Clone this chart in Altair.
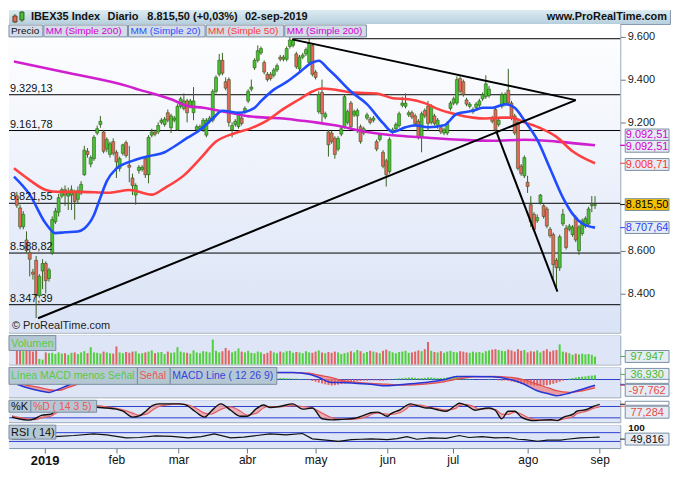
import altair as alt
import pandas as pd

FONT = "Liberation Sans"

# ---------------- data ----------------
candle_open = [
    8857, 8800, 8712, 8650, 8590, 8500, 8555, 8390, 8505, 8540,
    8470, 8590, 8735, 8780, 8855, 8885, 8855, 8860, 8875, 8840,
    8870, 8955, 9065, 9005, 9030, 9150, 9190, 9155, 9075, 9050,
    9110, 9060, 8985, 9055, 9105, 9000, 8940, 8860, 8975, 8980,
    9030, 8955, 9140, 9155, 9155, 9200, 9190, 9245, 9175, 9210,
    9165, 9275, 9265, 9300, 9275, 9245, 9165, 9170, 9165, 9140,
    9205, 9210, 9345, 9425, 9490, 9390, 9400, 9165, 9190, 9180,
    9220, 9250, 9300, 9355, 9455, 9490, 9525, 9480, 9425, 9425,
    9420, 9445, 9505, 9495, 9495, 9555, 9560, 9520, 9450, 9505,
    9520, 9480, 9560, 9435, 9250, 9340, 9225, 9155, 9150, 9125,
    9075, 9145, 9180, 9200, 9290, 9235, 9230, 9180, 9150, 9220,
    9215, 9210, 9110, 9120, 9060, 9020, 8970, 9155, 9170, 9185,
    9280, 9275, 9235, 9245, 9230, 9205, 9130, 9255, 9275, 9200,
    9230, 9180, 9175, 9150, 9150, 9265, 9290, 9290, 9405, 9390,
    9305, 9275, 9250, 9270, 9280, 9310, 9320, 9325, 9220, 9260,
    9190, 9275, 9285, 9350, 9290, 9230, 9200, 8995, 8950, 8920,
    8815, 8770, 8740, 8825, 8810, 8795, 8700, 8675, 8555, 8520,
    8725, 8705, 8700, 8675, 8755, 8600, 8680, 8715, 8725, 8810,
    8812,
]
candle_high = [
    8875, 8815, 8785, 8690, 8605, 8515, 8575, 8490, 8560, 8550,
    8520, 8760, 8800, 8865, 8895, 8905, 8895, 8905, 8885, 8900,
    8925, 9090, 9080, 9045, 9140, 9185, 9230, 9165, 9130, 9110,
    9125, 9070, 9040, 9100, 9115, 9090, 8960, 8915, 9000, 9000,
    9040, 9140, 9170, 9165, 9200, 9220, 9225, 9260, 9240, 9230,
    9285, 9320, 9335, 9310, 9310, 9365, 9190, 9190, 9220, 9220,
    9230, 9355, 9420, 9520, 9525, 9410, 9410, 9200, 9215, 9250,
    9235, 9275, 9355, 9400, 9500, 9560, 9555, 9490, 9435, 9435,
    9455, 9475, 9515, 9515, 9555, 9600, 9595, 9530, 9515, 9525,
    9550, 9590, 9570, 9445, 9345, 9400, 9250, 9165, 9160, 9135,
    9135, 9180, 9330, 9260, 9300, 9260, 9265, 9190, 9180, 9245,
    9225, 9230, 9120, 9150, 9070, 9030, 9130, 9175, 9200, 9250,
    9320, 9335, 9255, 9255, 9240, 9215, 9250, 9265, 9300, 9285,
    9240, 9220, 9185, 9175, 9205, 9300, 9320, 9415, 9420, 9400,
    9315, 9295, 9270, 9295, 9310, 9340, 9420, 9370, 9230, 9270,
    9220, 9340, 9340, 9450, 9300, 9240, 9210, 9005, 9045, 8950,
    8855, 8780, 8770, 8865, 8820, 8805, 8710, 8685, 8565, 8675,
    8795, 8720, 8725, 8720, 8765, 8720, 8750, 8760, 8805, 8855,
    8855,
]
candle_low = [
    8800, 8700, 8700, 8590, 8480, 8465, 8285, 8380, 8420, 8400,
    8455, 8580, 8725, 8760, 8845, 8810, 8790, 8790, 8745, 8820,
    8860, 8950, 9035, 8990, 9020, 9140, 9175, 9055, 9060, 9035,
    9045, 8940, 8970, 9045, 9035, 8920, 8860, 8815, 8960, 8970,
    8940, 8915, 9130, 9135, 9145, 9190, 9180, 9200, 9150, 9200,
    9160, 9265, 9255, 9200, 9265, 9210, 9150, 9160, 9155, 9130,
    9195, 9200, 9335, 9415, 9420, 9350, 9180, 9130, 9180, 9170,
    9185, 9240, 9290, 9345, 9445, 9480, 9515, 9425, 9390, 9395,
    9410, 9435, 9485, 9485, 9485, 9545, 9550, 9450, 9440, 9495,
    9510, 9470, 9415, 9400, 9240, 9200, 9215, 9040, 9100, 9030,
    9065, 9135, 9170, 9190, 9170, 9225, 9150, 9100, 9140, 9210,
    9190, 9200, 9065, 9110, 8985, 8900, 8960, 9145, 9160, 9175,
    9270, 9265, 9225, 9215, 9185, 9120, 9060, 9220, 9160, 9190,
    9185, 9170, 9145, 9140, 9140, 9255, 9280, 9280, 9335, 9320,
    9275, 9265, 9240, 9260, 9270, 9300, 9310, 9315, 9195, 9150,
    9180, 9265, 9275, 9280, 9210, 9140, 8975, 8950, 8940, 8870,
    8710, 8690, 8730, 8815, 8750, 8705, 8660, 8470, 8415, 8505,
    8715, 8605, 8690, 8665, 8640, 8580, 8670, 8705, 8715, 8780,
    8795,
]
candle_close = [
    8812, 8712, 8770, 8600, 8560, 8490, 8390, 8480, 8540, 8460,
    8510, 8745, 8785, 8848, 8885, 8860, 8870, 8885, 8830, 8880,
    8910, 9070, 9050, 9035, 9130, 9170, 9205, 9065, 9120, 9100,
    9055, 9015, 9030, 9095, 9045, 8990, 8905, 8905, 8990, 8990,
    8955, 9130, 9155, 9145, 9185, 9210, 9215, 9210, 9230, 9220,
    9275, 9310, 9300, 9245, 9300, 9300, 9180, 9180, 9210, 9210,
    9220, 9345, 9410, 9490, 9430, 9360, 9200, 9185, 9205, 9240,
    9195, 9265, 9345, 9365, 9490, 9535, 9545, 9435, 9400, 9405,
    9445, 9465, 9495, 9505, 9545, 9585, 9585, 9460, 9505, 9515,
    9540, 9570, 9425, 9410, 9330, 9240, 9240, 9095, 9110, 9050,
    9125, 9170, 9320, 9250, 9180, 9250, 9255, 9110, 9170, 9235,
    9200, 9220, 9075, 9140, 8995, 8955, 9120, 9165, 9190, 9240,
    9290, 9290, 9245, 9225, 9195, 9130, 9240, 9230, 9195, 9275,
    9195, 9210, 9155, 9165, 9195, 9290, 9310, 9400, 9345, 9330,
    9285, 9285, 9260, 9285, 9300, 9330, 9380, 9355, 9205, 9165,
    9210, 9330, 9330, 9290, 9220, 9150, 8985, 8960, 9035, 8900,
    8735, 8700, 8755, 8860, 8760, 8715, 8670, 8535, 8520, 8665,
    8770, 8615, 8715, 8710, 8650, 8710, 8740, 8750, 8795, 8815,
    8815.5,
]
volume_k = [
    170, 175, 165, 170, 180, 160, 185, 70, 60, 150, 140,
    145, 130, 150, 135, 140, 120, 145, 150, 130, 150,
    165, 140, 215, 150, 145, 135, 160, 150, 140, 135,
    225, 150, 140, 155, 145, 160, 165, 135, 140, 150,
    160, 175, 140, 150, 155, 130, 160, 145, 150, 215,
    160, 150, 145, 135, 175, 150, 140, 165, 160, 150,
    310, 170, 150, 165, 205, 175, 150, 165, 200, 160,
    150, 170, 145, 140, 160, 150, 130, 145, 170, 150,
    140, 160, 150, 165, 170, 145, 155, 150, 140, 165,
    150, 145, 160, 175, 150, 140, 155, 145, 160, 150,
    130, 140, 150, 165, 150, 180, 165, 140, 155, 170,
    160, 150, 140, 170, 185, 165, 150, 140, 155, 160,
    170, 145, 150, 160, 175, 165, 190, 280, 170, 155,
    150, 165, 145, 160, 170, 155, 150, 165, 160, 150,
    145, 160, 150, 155, 145, 165, 175, 185, 190, 180,
    170, 165, 185, 175, 160, 190, 170, 180, 150, 165,
    160, 175, 150, 170, 190, 160, 175, 180, 250, 160,
    150, 140, 120, 135, 125, 135, 125, 130, 120, 97.947,
]

ma20_idx = [-0.9, 4, 9, 12, 15, 19, 21, 24, 26, 28, 31, 36, 41, 46, 49, 53, 57, 61, 64, 69,
            74, 76, 80, 84, 88, 92, 94, 97, 99, 104, 109, 114, 117, 121, 124, 128, 133, 137, 142, 145,
            148, 152, 155, 158, 162, 166, 170, 173, 176, 180]
ma20_val = [8946, 8862, 8727, 8682, 8686, 8690, 8704, 8767, 8848, 8925, 8984, 9020, 9042, 9060, 9087,
            9127, 9164, 9218, 9254, 9245, 9268, 9299, 9353, 9389, 9434, 9480, 9488, 9448, 9420, 9344,
            9285, 9196, 9155, 9177, 9186, 9177, 9186, 9240, 9254, 9268, 9268, 9285, 9268, 9209, 9119,
            8984, 8848, 8772, 8727, 8707.64]
ma50_idx = [-0.9, 4, 9, 13, 19, 29, 35, 42, 46, 52, 57, 62, 68, 73, 78, 83, 88, 92, 95, 98,
            104, 112, 117, 122, 127, 131, 136, 142, 146, 151, 154, 158, 163, 168, 173, 180]
ma50_val = [8985, 8930, 8884, 8875, 8875, 8871, 8884, 8862, 8893, 8952, 9029, 9110, 9150, 9173, 9209,
            9263, 9308, 9344, 9358, 9355, 9340, 9335, 9313, 9308, 9290, 9263, 9240, 9222, 9218, 9222,
            9222, 9200, 9173, 9132, 9065, 9008.71]
ma200_idx = [-0.9, 15, 35, 38, 48, 53, 58, 63, 68, 73, 78, 83, 88, 93, 99, 109, 119, 128, 138, 148,
             158, 168, 180]
ma200_val = [9485, 9434, 9367, 9353, 9308, 9277, 9268, 9254, 9240, 9227, 9222, 9218, 9209, 9200, 9186,
             9155, 9137, 9128, 9119, 9114, 9119, 9110, 9092.51]

level_values = [9329.13, 9161.78, 8821.55, 8588.82, 8347.39]
level_labels = ["9.329,13", "9.161,78", "8.821,55", "8.588,82", "8.347,39"]
top_level_value = 9591
top_level_start = 86

trend_seg = ["a", "a", "b", "b", "c", "c"]
trend_idx = [6.6, 174.0, 85.7, 174.0, 149.3, 168.3]
trend_val = [8284, 9304, 9588, 9304, 9156, 8408]

price_ticks = [8400, 8600, 9200, 9400, 9600]
rbox_value = [9141, 9088, 9003, 8815.5, 8708]
rbox_tick = [9092.51, 9092.51, 9008.71, 8815.5, 8707.64]
rbox_text = ["9.092,51", "9.092,51", "9.008,71", "8.815,50", "8.707,64"]

macd_idx = [0, 3, 7, 10, 13, 16, 19, 24, 30, 36, 42, 48, 54, 60, 66, 72, 76, 80, 86, 91,
            94, 98, 101, 106, 110, 115, 121, 127, 133, 137, 142, 148, 154, 158, 162, 166, 168, 172, 176, 180]
macd_line = [-33, -56, -79, -91, -68, -40, -16, 20, 50, 60, 45, 60, 70, 55, 40, 40, 45, 49, 49, 37,
             14, -21, -21, -28, -33, -44, -33, -21, -2, 21, 21, 19, -2, -33, -79, -103, -114, -96, -68, -40]
macd_signal = [-21, -40, -56, -72, -77, -56, -33, 0, 35, 55, 55, 55, 62, 60, 50, 42, 45, 49, 49, 44,
               30, 14, -7, -21, -28, -33, -40, -33, -16, 2, 19, 21, 14, -2, -33, -63, -79, -91, -79, -58]
macd_hist = [
    -5, -8, -10, -12,
    -15, -20, -25, -22, -18,
    -12, -6, 4, 10,
    14, 18, 20, 22, 20, 18, 16, 14,
    12, 12, 10, 10, 8, 8, 6, 6, 4, 4,
    2, -2, -4, -6, -8, -8, -8, -6, -6, -4,
    -2, 2, 4, 4, 6, 6, 6, 6, 8, 8,
    8, 8, 6, 6, 4, 2, -2, -4, -4, -2,
    2, 6, 8, 10, 8, 4, 2, -2, -4, -4,
    -2, 2, 4, 6, 6, 6, 4, 4, 6, 8,
    8, 10, 10, 8, 8, 6, 6, 4, 2, 2,
    -4, -10, -16, -22, -28, -34, -38, -42, -40, -36,
    -32, -28, -24, -20, -16, -12, -10, -8, -8, -6,
    -6, -6, -8, -8, -6, -4, 2, 6, 8, 10,
    12, 14, 14, 12, 10, 10, 12, 14, 14, 12,
    10, 10, 12, 14, 16, 18, 16, 14, 10, 6,
    4, 2, 0, -2, -2, 2, 4, 2, -2, -6,
    -8, -6, -10, -14, -18, -24, -28, -30, -34, -38,
    -42, -44, -44, -42, -40, -36, -30, -24, -16, -8,
    0, 6, 10, 14, 18, 20, 22, 26, 28, 30,
]

stoch_idx = [0, 2, 5, 7, 9, 12, 14, 17, 20, 23, 26, 29, 32, 34, 37, 39, 41, 43, 45, 49,
             51, 53, 56, 59, 61, 64, 67, 70, 72, 75, 77, 79, 82, 86, 89, 92, 95, 98, 101, 105,
             109, 110, 112, 115, 116, 119, 121, 122, 125, 127, 128, 130, 133, 136, 137, 139, 142, 143, 146, 148,
             150, 152, 154, 156, 158, 160, 162, 165, 167, 169, 172, 173, 176, 178, 180]
stoch_k = [24, 15, 8, 15, 33, 40, 70, 90, 85, 95, 76, 72, 66, 55, 24, 30, 55, 85, 94, 94,
           94, 90, 55, 24, 55, 94, 60, 28, 28, 70, 88, 75, 80, 94, 66, 72, 15, 9, 12, 18,
           41, 47, 50, 28, 41, 64, 87, 94, 80, 72, 72, 64, 55, 88, 97, 88, 60, 64, 72, 60,
           15, 55, 55, 24, 10, 5, 8, 10, 5, 24, 41, 55, 64, 80, 91]
stoch_d = [30, 22, 14, 11, 20, 30, 50, 72, 84, 88, 85, 78, 70, 62, 45, 34, 38, 60, 80, 92,
           94, 92, 75, 45, 40, 65, 78, 55, 35, 45, 72, 80, 78, 85, 80, 72, 45, 20, 12, 13,
           28, 38, 45, 40, 38, 48, 70, 86, 88, 80, 75, 70, 62, 70, 85, 90, 75, 66, 68, 65,
           40, 38, 50, 40, 22, 12, 8, 8, 7, 14, 28, 42, 55, 70, 77.3]

rsi_idx = [0, 4, 13, 19, 25, 29, 35, 39, 44, 49, 54, 58, 62, 67, 71, 75, 79, 84, 89, 92,
           97, 100, 104, 107, 110, 115, 118, 121, 124, 128, 133, 137, 140, 144, 148, 152, 155, 157, 161, 164,
           168, 170, 174, 177, 180]
rsi_val = [42, 42, 52, 57, 64, 60, 46, 48, 55, 53, 46, 52, 64, 46, 50, 57, 64, 60, 66, 42,
           35, 30, 38, 40, 42, 38, 43, 52, 40, 46, 44, 57, 48, 52, 46, 48, 40, 38, 31, 36,
           36, 40, 46, 48, 49.816]

month_ticks = [10, 32, 51, 72, 93, 115, 135, 158, 180]
month_labels = ["2019", "feb", "mar", "abr", "may", "jun", "jul", "ago", "sep"]

# ---------------- layout / style ----------------
W = 614
TOTAL_W = 664
H_HEAD = 14
H_PRICE = 310
H_VOL = 29
H_MACD = 30
H_STO = 22
H_RSI = 23
GAP = 3

UP = "#46c232"
DOWN = "#e8675c"
PANEL_FILL = "#dde5f7"
LABEL_FILL = "#b6c7d4"
BOX_FILL = "#e6ecf4"
BOX_STROKE = "#7a8ea3"
RECT_SHAPE = "M-1,-0.27H1V0.27H-1Z"
BOX_X0 = W + 5
BOX_X1 = W + 49
BOX_X = (BOX_X0 + BOX_X1) / 2

one = pd.DataFrame({"k": [0]})

candles = pd.DataFrame({
    "i": list(range(len(candle_close))),
    "open": candle_open, "high": candle_high, "low": candle_low, "close": candle_close,
    "vol": volume_k, "hist": macd_hist,
})

xs = alt.Scale(domain=[-0.9, 186.3], nice=False, zero=False)


def X(field="i", axis=None):
    return alt.X(f"{field}:Q", scale=xs, axis=axis)


def box(x0, x1, y0, y1, fill, stroke=BOX_STROKE):
    return alt.Chart(one).mark_rect(fill=fill, stroke=stroke, strokeWidth=1).encode(
        x=alt.value(x0), x2=alt.value(x1), y=alt.value(y0), y2=alt.value(y1))


def txt(x, y, s, color, size=11, align="left", weight="normal", baseline="middle"):
    return alt.Chart(one).mark_text(align=align, baseline=baseline, fontSize=size, color=color,
                                    font=FONT, fontWeight=weight).encode(
        x=alt.value(x), y=alt.value(y), text=alt.value(s))


def label_box(x0, x1, y0, y1, s, color, fill=LABEL_FILL, size=10.5):
    return [box(x0, x1, y0, y1, fill), txt(x0 + 2, (y0 + y1) / 2 + 0.5, s, color, size=size)]


def right_box(y, s, color, fill=BOX_FILL):
    return [box(BOX_X0, BOX_X1, y - 6, y + 6, fill), txt(BOX_X, y + 0.5, s, color, align="center")]


def right_tick(y, color):
    return alt.Chart(one).mark_rule(color=color, strokeWidth=1).encode(
        x=alt.value(W), x2=alt.value(W + 5), y=alt.value(y))


def panel_bg(h, fill=PANEL_FILL):
    return alt.Chart(one).mark_rect(fill=fill).encode(
        x=alt.value(0), x2=alt.value(W), y=alt.value(0), y2=alt.value(h))


# ---------------- header ----------------
head_grad = alt.Gradient(gradient="linear",
                         stops=[alt.GradientStop(color="#dcebf2", offset=0),
                                alt.GradientStop(color="#b7d0dd", offset=1)],
                         x1=0, x2=0, y1=0, y2=1)
header_layers = [
    alt.Chart(one).mark_rect(fill=head_grad).encode(
        x=alt.value(0), x2=alt.value(TOTAL_W), y=alt.value(0), y2=alt.value(H_HEAD)),
    alt.Chart(one).mark_rule(color="#3d6b22").encode(x=alt.value(6), y=alt.value(4), y2=alt.value(13)),
    box(4, 8, 6, 12, DOWN, "#5a4020"),
    alt.Chart(one).mark_rule(color="#3d6b22").encode(x=alt.value(13), y=alt.value(1), y2=alt.value(12)),
    box(11, 15, 2, 10, UP, "#2f5a1c"),
    txt(22, 7.5, "IBEX35 Index", "#111", weight="bold"),
    txt(99, 7.5, "Diario", "#111", weight="bold"),
    txt(139, 7.5, "8.815,50 (+0,03%)", "#111", weight="bold"),
    txt(237, 7.5, "02-sep-2019", "#111", weight="bold"),
    txt(TOTAL_W - 3, 7.5, "www.ProRealTime.com", "#111", align="right", weight="bold"),
]
header = alt.layer(*header_layers).properties(width=TOTAL_W, height=H_HEAD)

# ---------------- price panel ----------------
price_scale = alt.Scale(domain=[8217, 9660], nice=False, zero=False)
price_axis = alt.Axis(orient="right", values=price_ticks,
                      labelExpr="replace(format(datum.value, ','), ',', '.')",
                      tickSize=5, tickColor="#6b7785", labelColor="#1a1a1a", labelFontSize=11,
                      labelFont=FONT, labelPadding=2, domain=False, grid=False, title=None)


def YP(field):
    return alt.Y(f"{field}:Q", scale=price_scale, axis=price_axis)


price_grad = alt.Gradient(gradient="linear",
                          stops=[alt.GradientStop(color="#ffffff", offset=0),
                                 alt.GradientStop(color="#dae3f6", offset=1)],
                          x1=0, x2=0, y1=0, y2=1)
levels_df = pd.DataFrame({"v": level_values, "label": level_labels})
top_df = pd.DataFrame({"i": [top_level_start], "v": [top_level_value]})
trend_df = pd.DataFrame({"seg": trend_seg, "i": trend_idx, "v": trend_val})
rbox_df = pd.DataFrame({"v": rbox_value, "t": rbox_tick, "label": rbox_text,
                        "tc": ["#d000d0", "#d000d0", "#ff3030", "#000000", "#1f3fff"],
                        "fc": [BOX_FILL, BOX_FILL, BOX_FILL, "#f5c000", BOX_FILL]})


def ma_line(idx, val, color):
    df = pd.DataFrame({"i": idx, "v": val})
    return alt.Chart(df).mark_line(color=color, strokeWidth=2.6, interpolate="monotone").encode(
        x=X(), y=YP("v"))


price_layers = [
    alt.Chart(one).mark_rect(fill=price_grad).encode(
        x=alt.value(0), x2=alt.value(W), y=alt.value(0), y2=alt.value(H_PRICE)),
    alt.Chart(levels_df).mark_rule(color="#000", strokeWidth=1).encode(y=YP("v")),
    alt.Chart(top_df).mark_rule(color="#000", strokeWidth=1).encode(
        x=X(), x2=alt.value(W), y=YP("v")),
    alt.Chart(candles).mark_rule(color="#3b6221", strokeWidth=1).encode(
        x=X(), y=YP("low"), y2="high:Q"),
    alt.Chart(candles).mark_bar(size=3, stroke="#355a1e", strokeWidth=0.6).encode(
        x=X(), y=YP("open"), y2="close:Q",
        color=alt.condition("datum.close >= datum.open", alt.value(UP), alt.value(DOWN))),
    ma_line(ma200_idx, ma200_val, "#cf1fcf"),
    ma_line(ma50_idx, ma50_val, "#ff4040"),
    ma_line(ma20_idx, ma20_val, "#1f4cff"),
    alt.Chart(trend_df).mark_line(color="#000", strokeWidth=2).encode(
        x=X(), y=YP("v"), detail="seg:N"),
    alt.Chart(levels_df).mark_text(align="left", baseline="bottom", dy=-1, fontSize=11,
                                   font=FONT, color="#111").encode(
        x=alt.value(1), y=YP("v"), text="label:N"),
    alt.Chart(rbox_df).mark_rule(strokeWidth=1).encode(
        x=alt.value(W), x2=alt.value(W + 5), y=YP("t"), color=alt.Color("tc:N", scale=None)),
    alt.Chart(rbox_df).mark_point(shape=RECT_SHAPE, size=1936, filled=True, stroke=BOX_STROKE,
                                  strokeWidth=1, opacity=1).encode(
        x=alt.value(BOX_X), y=YP("v"), fill=alt.Fill("fc:N", scale=None)),
    alt.Chart(rbox_df).mark_text(align="center", baseline="middle", fontSize=11, font=FONT, dy=0.5).encode(
        x=alt.value(BOX_X), y=YP("v"), text="label:N", color=alt.Color("tc:N", scale=None)),
    txt(3, H_PRICE - 7, "© ProRealTime.com", "#222"),
]
LEG_FILL = "#d3dce7"
price_layers += label_box(0, 34, 1, 13, "Precio", "#111", LEG_FILL, size=10)
price_layers += label_box(35, 119, 1, 13, "MM (Simple 200)", "#d600d6", LEG_FILL, size=10)
price_layers += label_box(120, 197, 1, 13, "MM (Simple 20)", "#2a52ff", LEG_FILL, size=10)
price_layers += label_box(198, 276, 1, 13, "MM (Simple 50)", "#ff3b3b", LEG_FILL, size=10)
price_layers += label_box(277, 359, 1, 13, "MM (Simple 200)", "#d600d6", LEG_FILL, size=10)
price = alt.layer(*price_layers).properties(width=W, height=H_PRICE)

# ---------------- volume panel ----------------
vol_scale = alt.Scale(domain=[0, 360], nice=False, zero=True)
vol_layers = [
    panel_bg(H_VOL),
    alt.Chart(candles).mark_bar(size=2).encode(
        x=X(), y=alt.Y("vol:Q", scale=vol_scale, axis=None),
        color=alt.condition("datum.close >= datum.open", alt.value("#52d03c"), alt.value("#e36262"))),
]
vol_layers += label_box(0, 47, 0, 15, "Volumen", "#55cc44", size=11)
vol_layers += [right_tick(21, "#55aa44")] + right_box(21, "97.947", "#44bb33")
volume = alt.layer(*vol_layers).properties(width=W, height=H_VOL)

# ---------------- MACD panel ----------------
macd_scale = alt.Scale(domain=[-125, 85], nice=False, zero=False)
macd_df = pd.DataFrame({"i": macd_idx, "m": macd_line, "s": macd_signal})
zero_df = pd.DataFrame({"z": [0]})
macd_layers = [
    panel_bg(H_MACD),
    alt.Chart(zero_df).mark_rule(color="#2a3fd0", strokeWidth=1).encode(
        y=alt.Y("z:Q", scale=macd_scale, axis=None)),
    alt.Chart(macd_df).mark_area(color="#ef8a8a", opacity=0.8, interpolate="monotone").encode(
        x=X(), y=alt.Y("m:Q", scale=macd_scale, axis=None), y2="s:Q"),
    alt.Chart(candles).mark_bar(size=2).encode(
        x=X(), y=alt.Y("hist:Q", scale=macd_scale, axis=None),
        color=alt.condition("datum.hist >= 0", alt.value("#4ccc3a"), alt.value("#e46262"))),
    alt.Chart(macd_df).mark_line(color="#e05050", strokeWidth=1.3, interpolate="monotone").encode(
        x=X(), y=alt.Y("s:Q", scale=macd_scale, axis=None)),
    alt.Chart(macd_df).mark_line(color="#2436d8", strokeWidth=1.5, interpolate="monotone").encode(
        x=X(), y=alt.Y("m:Q", scale=macd_scale, axis=None)),
]
macd_layers += label_box(0, 129, 0, 17, "Línea MACD menos Señal", "#55cc44")
macd_layers += label_box(129, 162, 0, 17, "Señal", "#ee5555")
macd_layers += label_box(162, 269, 0, 17, "MACD Line ( 12 26 9)", "#3344dd")
macd_layers += [right_tick(7, "#55aa44"), right_tick(17, "#2436d8"), right_tick(18, "#e05050")]
macd_layers += right_box(7, "36,930", "#44bb33")
macd_layers += [box(BOX_X0, BOX_X1, 12, 16, "#ffffff")]
macd_layers += right_box(23, "-97,762", "#e84848")
macd = alt.layer(*macd_layers).properties(width=W, height=H_MACD)

# ---------------- stochastic panel ----------------
sto_scale = alt.Scale(domain=[-3, 113], nice=False, zero=False)
sto_df = pd.DataFrame({"i": stoch_idx, "k": stoch_k, "d": stoch_d})
ref_sto = pd.DataFrame({"v": [80, 20]})
sto_layers = [
    panel_bg(H_STO),
    alt.Chart(ref_sto).mark_rule(color="#2a3fd0", strokeWidth=1).encode(
        y=alt.Y("v:Q", scale=sto_scale, axis=None)),
    alt.Chart(sto_df).mark_area(color="#f0a0a8", opacity=0.8, interpolate="monotone").encode(
        x=X(), y=alt.Y("k:Q", scale=sto_scale, axis=None), y2="d:Q"),
    alt.Chart(sto_df).mark_line(color="#e06060", strokeWidth=1.2, interpolate="monotone").encode(
        x=X(), y=alt.Y("d:Q", scale=sto_scale, axis=None)),
    alt.Chart(sto_df).mark_line(color="#111", strokeWidth=1.4, interpolate="monotone").encode(
        x=X(), y=alt.Y("k:Q", scale=sto_scale, axis=None)),
]
sto_layers += label_box(0, 22, 0, 12, "%K", "#111", size=11)
sto_layers += label_box(22, 88, 0, 12, "%D ( 14 3 5)", "#ee5555")
sto_layers += [right_tick(4, "#111"), right_tick(6, "#e05050")]
sto_layers += [box(BOX_X0, BOX_X1, 1, 5, "#ffffff")]
sto_layers += right_box(12, "77,284", "#e84848")
stoch = alt.layer(*sto_layers).properties(width=W, height=H_STO)

# ---------------- RSI panel ----------------
rsi_scale = alt.Scale(domain=[0, 104], nice=False, zero=False)
rsi_df = pd.DataFrame({"i": rsi_idx, "v": rsi_val})
ref_rsi = pd.DataFrame({"v": [70, 30]})
x_expr = " : ".join(f"datum.value == {t} ? '{l}'" for t, l in zip(month_ticks, month_labels)) + " : ''"
x_axis = alt.Axis(values=month_ticks, labelExpr=x_expr, tickSize=5, tickColor="#6b7785",
                  domain=False, grid=False, title=None, labelFont=FONT, labelColor="#111",
                  labelPadding=2, labelFlush=False,
                  labelFontSize={"condition": {"test": f"datum.value == {month_ticks[0]}", "value": 13},
                                 "value": 12},
                  labelFontWeight={"condition": {"test": f"datum.value == {month_ticks[0]}", "value": "bold"},
                                   "value": "normal"})
rsi_layers = [
    panel_bg(H_RSI),
    alt.Chart(ref_rsi).mark_rule(color="#2a3fd0", strokeWidth=1).encode(
        y=alt.Y("v:Q", scale=rsi_scale, axis=None)),
    alt.Chart(rsi_df).mark_line(color="#111", strokeWidth=1.2).encode(
        x=X(axis=x_axis), y=alt.Y("v:Q", scale=rsi_scale, axis=None)),
]
rsi_layers += label_box(0, 47, 0, 14, "RSI ( 14)", "#111", size=11)
rsi_layers += [txt(W + 8, -2, "100", "#111", size=10, weight="bold", baseline="top"),
               right_tick(14, "#111")]
rsi_layers += right_box(14, "49,816", "#111")
rsi = alt.layer(*rsi_layers).properties(width=W, height=H_RSI)

# ---------------- assemble ----------------
body = alt.vconcat(price, volume, macd, stoch, rsi, spacing=GAP, bounds="flush")
chart = alt.vconcat(header, body, spacing=0, bounds="flush").properties(
    padding=0, background="#ffffff"
).configure(font=FONT).configure_view(stroke="#8497ab", strokeWidth=1)

chart.save("out.html", embed_options={"renderer": "svg", "actions": False})
